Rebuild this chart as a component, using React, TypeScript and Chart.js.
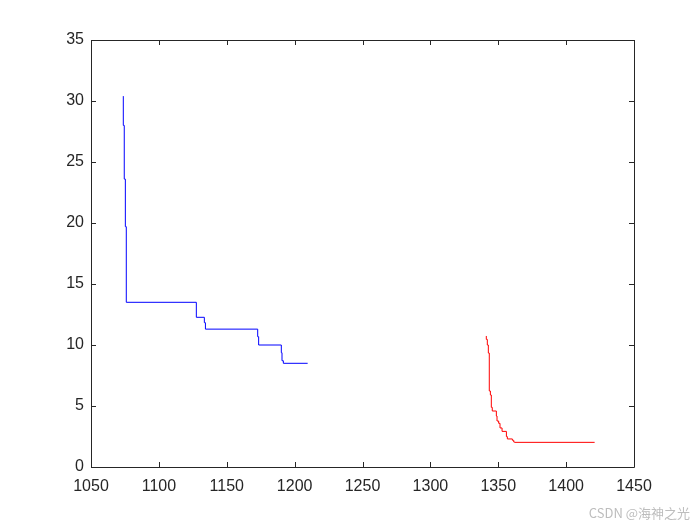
import React, { useEffect, useRef } from "react";
import { Chart, registerables } from "chart.js";

Chart.register(...registerables);

// Blue staircase (vertical drop at previous x, then horizontal to next x)
const blueX = [1073.8, 1074.5, 1075.3, 1076.0, 1127.6, 1133.5, 1134.3, 1172.8, 1173.5, 1190.2, 1190.7, 1191.7, 1209.6];
const blueY = [30.4, 28.0, 23.6, 19.7, 13.5, 12.27, 11.83, 11.3, 10.68, 10.0, 9.37, 8.71, 8.5];

// Red staircase
const redX = [1341.2, 1341.95, 1342.7, 1343.4, 1344.2, 1344.9, 1345.6, 1348.6, 1349.1, 1350.3, 1351.3, 1352.8, 1356.0, 1356.7, 1360.4, 1361.4, 1362.1, 1421.0];
const redY = [10.74, 10.46, 10.0, 9.34, 6.23, 5.9, 4.89, 4.59, 4.18, 3.77, 3.58, 3.2, 2.92, 2.49, 2.3, 2.19, 2.05, 2.02];

const xMin = 1050;
const xMax = 1450;
const xStep = 50;
const yMin = 0;
const yMax = 35;
const yStep = 5;

const AXIS_COLOR = "#262626";
const FONT = "'Liberation Sans', Arial, Helvetica, sans-serif";

const boxPlugin = {
  id: "matlabBox",
  afterDatasetsDraw(chart: any) {
    const { ctx, chartArea: a, scales } = chart;
    const tl = 5;
    ctx.save();
    ctx.strokeStyle = AXIS_COLOR;
    ctx.lineWidth = 1;
    ctx.beginPath();
    ctx.rect(Math.round(a.left) + 0.5, Math.round(a.top) + 0.5, Math.round(a.right - a.left), Math.round(a.bottom - a.top));
    ctx.stroke();
    ctx.beginPath();
    scales.x.ticks.forEach((t: any) => {
      const px = Math.round(scales.x.getPixelForValue(t.value)) + 0.5;
      ctx.moveTo(px, a.bottom);
      ctx.lineTo(px, a.bottom - tl);
      ctx.moveTo(px, a.top);
      ctx.lineTo(px, a.top + tl);
    });
    scales.y.ticks.forEach((t: any) => {
      const py = Math.round(scales.y.getPixelForValue(t.value)) + 0.5;
      ctx.moveTo(a.left, py);
      ctx.lineTo(a.left + tl, py);
      ctx.moveTo(a.right, py);
      ctx.lineTo(a.right - tl, py);
    });
    ctx.stroke();
    ctx.restore();
  },
};

export default function App() {
  const ref = useRef<HTMLCanvasElement | null>(null);

  useEffect(() => {
    document.body.style.margin = "0";
    const canvas = ref.current;
    if (!canvas) return;
    const chart = new Chart(canvas, {
      type: "line",
      data: {
        datasets: [
          {
            data: blueX.map((x, i) => ({ x, y: blueY[i] })),
            borderColor: "#0000ff",
            borderWidth: 1,
            pointRadius: 0,
            stepped: "after",
            fill: false,
          },
          {
            data: redX.map((x, i) => ({ x, y: redY[i] })),
            borderColor: "#ff0000",
            borderWidth: 1,
            pointRadius: 0,
            stepped: "after",
            fill: false,
          },
        ],
      },
      options: {
        animation: false,
        responsive: false,
        maintainAspectRatio: false,
        layout: { padding: { left: 0, top: 40, right: 66, bottom: 0 } },
        plugins: { legend: { display: false }, tooltip: { enabled: false } },
        scales: {
          x: {
            type: "linear",
            min: xMin,
            max: xMax,
            grid: { display: false, drawTicks: false },
            border: { display: false },
            ticks: {
              stepSize: xStep,
              color: AXIS_COLOR,
              font: { family: FONT, size: 16 },
              padding: 10,
              maxRotation: 0,
              autoSkip: false,
              callback: (v: any) => String(v),
            },
            afterFit(scale: any) {
              scale.height = 58;
            },
          },
          y: {
            type: "linear",
            min: yMin,
            max: yMax,
            grid: { display: false, drawTicks: false },
            border: { display: false },
            ticks: {
              stepSize: yStep,
              color: AXIS_COLOR,
              font: { family: FONT, size: 16 },
              padding: 7,
              autoSkip: false,
              callback: (v: any) => String(v),
            },
            afterFit(scale: any) {
              scale.width = 91;
            },
          },
        },
      },
      plugins: [boxPlugin],
    });
    return () => chart.destroy();
  }, []);

  return (
    <div style={{ position: "relative", width: 700, height: 525, background: "#fff" }}>
      <canvas ref={ref} width={700} height={525} style={{ display: "block", width: 700, height: 525 }} />
      <div
        style={{
          position: "absolute",
          right: 10,
          bottom: 3,
          fontFamily: "'Noto Sans CJK SC', 'Noto Sans', sans-serif",
          fontSize: 13,
          color: "#bdbdbd",
          whiteSpace: "nowrap",
        }}
      >
        CSDN @海神之光
      </div>
    </div>
  );
}
